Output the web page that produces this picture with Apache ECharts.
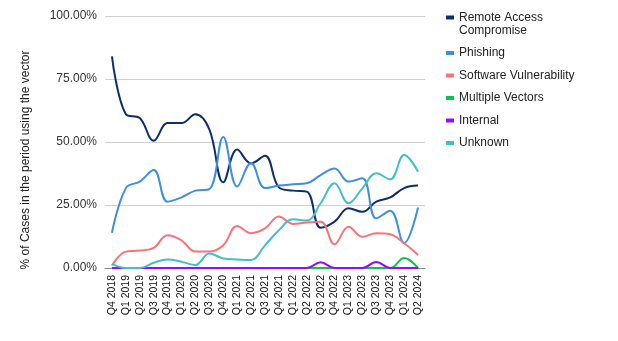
<!DOCTYPE html>
<html><head><meta charset="utf-8">
<script src="https://cdn.jsdelivr.net/npm/echarts@6/dist/echarts.min.js"></script>
<style>html,body{margin:0;padding:0;background:#fff}#c{width:618px;height:341px}</style>
</head><body><div id="c"></div>
<script>
const categories = ['Q4 2018','Q1 2019','Q2 2019','Q3 2019','Q4 2019','Q1 2020','Q2 2020','Q3 2020','Q4 2020','Q1 2021','Q2 2021','Q3 2021','Q4 2021','Q1 2022','Q2 2022','Q3 2022','Q4 2022','Q1 2023','Q2 2023','Q3 2023','Q4 2023','Q1 2024','Q2 2024'];
const remoteAccess = [84, 61, 59.5, 50.5, 57.5, 57.5, 61, 55, 34, 47, 41.5, 44.5, 32, 30.7, 30.3, 16, 18.4, 23.7, 22.3, 26.3, 28, 31.7, 32.7];
const phishing = [14, 31.7, 34.3, 38.9, 26.3, 28, 30.7, 31.3, 52, 32.3, 41.7, 31.7, 32.7, 33.2, 33.6, 36.9, 39.5, 34.3, 35.6, 19.7, 22.7, 9.9, 24];
const softwareVuln = [1, 6.5, 6.9, 8, 13, 11, 6.5, 6.5, 9, 16.7, 13.8, 15.7, 20.4, 17.5, 18.1, 18.4, 9.4, 16.4, 12.4, 13.8, 13.4, 9.8, 5.2];
const multipleVectors = [0, 0, 0, 0, 0, 0, 0, 0, 0, 0, 0, 0, 0, 0, 0, 0, 0, 0, 0, 0, 0, 4, 0];
const internal = [0, 0, 0, 0, 0, 0, 0, 0, 0, 0, 0, 0, 0, 0, 0, 2.3, 0, 0, 0, 2.4, 0, 0, 0];
const unknown = [1.6, 0, 0, 2.1, 3.4, 2.5, 1.2, 5.8, 3.8, 3.4, 3.2, 9, 15, 19.3, 18.8, 25.7, 33.6, 25.7, 31.6, 37.6, 35.2, 44.8, 38.2];
const yTicks = [0, 25, 50, 75, 100];
const seriesNames = ['Remote Access Compromise','Phishing','Software Vulnerability','Multiple Vectors','Internal','Unknown'];
const seriesData = [remoteAccess, phishing, softwareVuln, multipleVectors, internal, unknown];
const colors = ['#0c2f6b','#3f8fdc','#f4747a','#0bc44f','#9a0cf7','#43bfc7'];

const chart = echarts.init(document.getElementById('c'));
chart.setOption({
  animation: false,
  color: colors,
  textStyle: {fontFamily: 'Liberation Sans, Arial, sans-serif'},
  grid: {left: 105, right: 193, top: 16, bottom: 73},
  legend: {
    orient: 'vertical', left: 446, top: -2, padding: 0, itemGap: 9.5,
    itemWidth: 8, itemHeight: 4, icon: 'rect',
    textStyle: {fontSize: 12, color: '#222', lineHeight: 13},
    formatter: n => n === 'Remote Access Compromise' ? ' \nRemote Access\nCompromise' : n,
    data: seriesNames
  },
  graphic: [{
    type: 'text', x: 26, y: 160, rotation: Math.PI / 2,
    style: {text: '% of Cases in the period using the vector', fontSize: 12, fill: '#222',
      fontFamily: 'Liberation Sans, Arial, sans-serif', textAlign: 'center', textVerticalAlign: 'middle'}
  }],
  xAxis: {
    type: 'category', data: categories, boundaryGap: true,
    axisLine: {lineStyle: {color: '#888', width: 1}},
    axisTick: {show: false},
    axisLabel: {rotate: 90, fontSize: 10.5, color: '#111', margin: 7, interval: 0}
  },
  yAxis: {
    type: 'value', min: yTicks[0], max: yTicks[yTicks.length - 1], interval: 25,
    axisLine: {show: false}, axisTick: {show: false},
    splitLine: {lineStyle: {color: '#d0d0d0', width: 1}},
    axisLabel: {fontSize: 12, color: '#333', margin: 8, formatter: v => v.toFixed(2) + '%'}
  },
  series: seriesNames.map((n, i) => ({
    name: n, type: 'line', data: seriesData[i], smooth: 0.4, showSymbol: false,
    lineStyle: {width: 2}
  }))
});
</script></body></html>
